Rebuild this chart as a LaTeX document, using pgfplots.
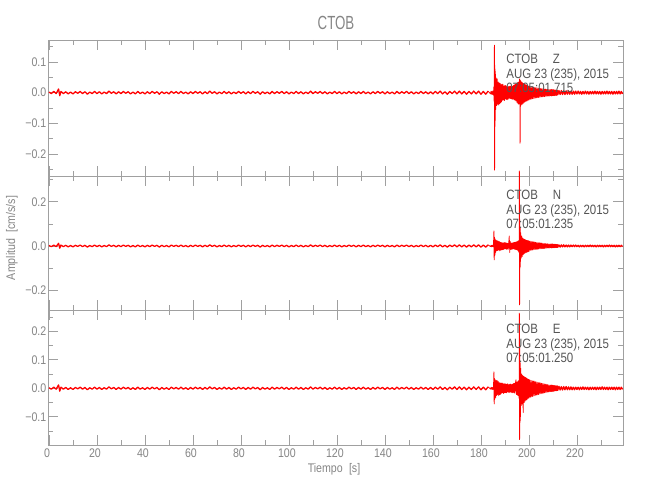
\documentclass[border=0pt]{standalone}
\usepackage{fontspec}
\setmainfont[FakeStretch=0.85]{Liberation Sans}
\newfontfamily\titlefont[FakeStretch=0.7]{Liberation Sans}
\usepackage{pgfplots}
\usepackage{pgfplotstable}
\pgfplotsset{compat=1.18}
\definecolor{axgray}{HTML}{A0A0A0}
\definecolor{txtgray}{HTML}{858585}
\definecolor{anngray}{HTML}{555555}
\definecolor{sigred}{HTML}{FF0000}

\pgfplotstableread[row sep=\\]{
t y\\
0 0.002\\ 1 -0.003\\ 2 0.004\\ 3 -0.003\\ 4 0.012\\ 4.5 -0.010\\ 5 0.004\\ 6 -0.003\\ 7 0.003\\ 8 -0.004\\ 9 0.002\\
10 -0.004\\ 11 0.003\\ 12 -0.002\\ 13 0.004\\ 14 -0.003\\ 15 0.003\\ 16 -0.005\\ 17 0.002\\ 18 -0.003\\ 19 0.004\\
20 -0.003\\ 21 0.003\\ 22 -0.004\\ 23 0.002\\ 24 -0.003\\ 25 0.005\\ 26 -0.002\\ 27 0.003\\ 28 -0.004\\ 29 0.003\\
30 -0.003\\ 31 0.004\\ 32 -0.002\\ 33 0.003\\ 34 -0.004\\ 35 0.002\\ 36 -0.004\\ 37 0.004\\ 38 -0.003\\ 39 0.002\\
40 -0.004\\ 41 0.003\\ 42 -0.003\\ 43 0.004\\ 44 -0.002\\ 45 0.003\\ 46 -0.005\\ 47 0.003\\ 48 -0.003\\ 49 0.002\\
50 -0.004\\ 51 0.004\\ 52 -0.002\\ 53 0.003\\ 54 -0.003\\ 55 0.004\\ 56 -0.003\\ 57 0.002\\ 58 -0.004\\ 59 0.003\\
60 -0.003\\ 61 0.004\\ 62 -0.002\\ 63 0.003\\ 64 -0.004\\ 65 0.003\\ 66 -0.003\\ 67 0.005\\ 68 -0.002\\ 69 0.003\\
70 -0.004\\ 71 0.002\\ 72 -0.003\\ 73 0.004\\ 74 -0.003\\ 75 0.003\\ 76 -0.004\\ 77 0.002\\ 78 -0.003\\ 79 0.004\\
80 -0.002\\ 81 0.003\\ 82 -0.004\\ 83 0.003\\ 84 -0.003\\ 85 0.004\\ 86 -0.002\\ 87 0.003\\ 88 -0.005\\ 89 0.003\\
90 -0.003\\ 91 0.002\\ 92 -0.004\\ 93 0.004\\ 94 -0.003\\ 95 0.003\\ 96 -0.002\\ 97 0.004\\ 98 -0.003\\ 99 0.003\\
100 -0.004\\ 101 0.002\\ 102 -0.003\\ 103 0.004\\ 104 -0.003\\ 105 0.003\\ 106 -0.004\\ 107 0.002\\ 108 -0.003\\ 109 0.005\\
110 -0.003\\ 111 0.003\\ 112 -0.002\\ 113 0.004\\ 114 -0.003\\ 115 0.003\\ 116 -0.004\\ 117 0.002\\ 118 -0.003\\ 119 0.004\\
120 -0.003\\ 121 0.003\\ 122 -0.004\\ 123 0.002\\ 124 -0.003\\ 125 0.004\\ 126 -0.002\\ 127 0.003\\ 128 -0.004\\ 129 0.003\\
130 -0.003\\ 131 0.004\\ 132 -0.003\\ 133 0.002\\ 134 -0.004\\ 135 0.003\\ 136 -0.003\\ 137 0.004\\ 138 -0.002\\ 139 0.003\\
140 -0.004\\ 141 0.003\\ 142 -0.003\\ 143 0.002\\ 144 -0.004\\ 145 0.004\\ 146 -0.003\\ 147 0.003\\ 148 -0.002\\ 149 0.004\\
150 -0.003\\ 151 0.003\\ 152 -0.004\\ 153 0.002\\ 154 -0.003\\ 155 0.004\\ 156 -0.003\\ 157 0.003\\ 158 -0.004\\ 159 0.003\\
160 -0.004\\ 161 0.004\\ 162 -0.003\\ 163 0.005\\ 164 -0.004\\ 165 0.003\\ 166 -0.005\\ 167 0.004\\ 168 -0.003\\ 169 0.005\\
170 -0.004\\ 171 0.005\\ 172 -0.004\\ 173 0.004\\ 174 -0.005\\ 175 0.004\\ 176 -0.004\\ 177 0.005\\ 178 -0.004\\ 179 0.005\\
180 -0.005\\ 181 0.004\\ 182 -0.005\\ 183 0.005\\
}\noise

\pgfplotstableread[row sep=\\]{
t z n e\\
183 0.005 0.005 0.005\\
184.0 -0.004 -0.003 -0.003\\ 184.2 0.005 0.003 0.004\\ 184.4 -0.005 -0.004 -0.003\\ 184.6 0.004 0.003 0.003\\
184.8 -0.006 -0.003 -0.004\\ 185.0 0.006 0.004 0.003\\ 185.2 -0.008 -0.004 -0.004\\
185.4 0.020 0.068 0.058\\ 185.5 -0.030 -0.063 -0.055\\ 185.6 0.155 0.040 0.035\\ 185.7 -0.253 -0.045 -0.040\\
185.8 0.090 0.035 0.030\\ 185.9 -0.110 -0.040 -0.035\\ 186.0 0.070 0.030 0.030\\
186.2 -0.055 -0.028 -0.032\\ 186.4 0.048 0.026 0.028\\ 186.6 -0.042 -0.022 -0.025\\ 186.8 0.045 0.024 0.027\\
187.0 -0.038 -0.020 -0.022\\ 187.2 0.035 0.022 0.024\\ 187.4 -0.040 -0.018 -0.026\\ 187.6 0.032 0.020 0.020\\
187.8 -0.036 -0.022 -0.022\\ 188.0 0.030 0.017 0.019\\ 188.2 -0.033 -0.019 -0.021\\ 188.4 0.026 0.016 0.018\\
188.6 -0.030 -0.018 -0.017\\ 188.8 0.028 0.015 0.019\\ 189.0 -0.025 -0.017 -0.016\\ 189.2 0.027 0.014 0.017\\
189.4 -0.024 -0.016 -0.018\\ 189.6 0.022 0.015 0.015\\ 189.8 -0.026 -0.014 -0.016\\ 190.0 0.024 0.016 0.017\\
190.2 -0.021 -0.013 -0.015\\ 190.4 0.023 0.014 0.014\\ 190.6 -0.022 -0.015 -0.016\\ 190.8 0.020 0.013 0.015\\
191.0 -0.023 -0.014 -0.013\\ 191.2 0.019 0.012 0.016\\ 191.4 -0.021 -0.015 -0.014\\ 191.6 0.020 0.018 0.013\\
191.8 -0.018 0.045 -0.015\\ 192.0 0.021 -0.030 0.014\\ 192.2 -0.019 0.020 -0.013\\ 192.4 0.022 -0.016 0.015\\
192.6 -0.020 0.014 -0.014\\ 192.8 0.018 -0.015 0.013\\ 193.0 -0.022 0.013 -0.016\\ 193.2 0.021 -0.014 0.015\\
193.4 -0.020 0.015 -0.014\\ 193.6 0.024 -0.013 0.017\\ 193.8 -0.023 0.016 -0.016\\ 194.0 0.026 -0.015 0.018\\
194.2 -0.025 0.017 -0.017\\ 194.4 0.028 -0.016 0.020\\ 194.6 -0.027 0.018 0.030\\ 194.8 0.030 -0.017 -0.022\\
195.0 -0.032 0.020 0.022\\ 195.2 0.033 -0.019 -0.024\\ 195.4 -0.036 0.022 0.025\\ 195.6 0.034 -0.024 -0.026\\
195.8 -0.038 0.025 0.028\\
195.9 0.036 -0.030 -0.035\\ 196.0 -0.035 0.340 0.264\\ 196.05 -0.030 0.330 0.255\\ 196.1 0.045 -0.267 -0.180\\
196.15 0.040 -0.255 -0.172\\ 196.2 0.045 0.120 0.150\\
196.3 -0.165 -0.100 -0.120\\ 196.35 -0.158 -0.090 -0.110\\ 196.4 0.040 0.080 0.090\\ 196.5 -0.045 -0.070 -0.100\\ 196.6 0.038 0.060 0.070\\
196.8 -0.040 -0.055 -0.060\\ 197.0 0.035 0.045 0.050\\ 197.2 -0.038 -0.048 -0.055\\ 197.4 0.032 0.036 0.045\\
197.6 -0.035 -0.040 -0.085\\ 197.8 0.030 0.032 0.042\\ 198.0 -0.032 -0.035 -0.050\\ 198.2 0.028 0.030 0.040\\
198.4 -0.030 -0.032 -0.045\\ 198.6 0.026 0.028 0.038\\ 198.8 -0.028 -0.030 -0.042\\ 199.0 0.025 0.026 0.036\\
199.2 -0.027 -0.028 -0.040\\ 199.4 0.023 0.025 0.034\\ 199.6 -0.025 -0.026 -0.036\\ 199.8 0.022 0.024 0.032\\
200.0 -0.024 -0.025 -0.034\\
200.25 0.021 0.022 0.030\\ 200.5 -0.022 -0.020 -0.032\\ 200.75 0.020 0.021 0.028\\ 201.0 -0.021 -0.019 -0.030\\
201.25 0.019 0.020 0.027\\ 201.5 -0.020 -0.018 -0.029\\ 201.75 0.018 0.019 0.026\\ 202.0 -0.019 -0.017 -0.027\\
202.25 0.017 0.018 0.025\\ 202.5 -0.018 -0.016 -0.026\\ 202.75 0.016 0.017 0.023\\ 203.0 -0.017 -0.015 -0.024\\
203.25 0.016 0.016 0.022\\ 203.5 -0.016 -0.015 -0.023\\ 203.75 0.015 0.015 0.021\\ 204.0 -0.016 -0.014 -0.022\\
204.25 0.014 0.015 0.020\\ 204.5 -0.015 -0.013 -0.020\\ 204.75 0.014 0.014 0.019\\ 205.0 -0.014 -0.013 -0.019\\
205.25 0.013 0.013 0.018\\ 205.5 -0.014 -0.012 -0.018\\ 205.75 0.013 0.012 0.017\\ 206.0 -0.013 -0.012 -0.017\\
206.25 0.012 0.011 0.016\\ 206.5 -0.013 -0.011 -0.016\\ 206.75 0.012 0.011 0.015\\ 207.0 -0.012 -0.010 -0.015\\
207.25 0.011 0.010 0.014\\ 207.5 -0.012 -0.010 -0.014\\ 207.75 0.011 0.010 0.013\\ 208.0 -0.011 -0.009 -0.013\\
208.25 0.010 0.009 0.012\\ 208.5 -0.011 -0.009 -0.012\\ 208.75 0.010 0.009 0.011\\ 209.0 -0.010 -0.008 -0.011\\
209.25 0.010 0.008 0.011\\ 209.5 -0.010 -0.008 -0.010\\ 209.75 0.009 0.008 0.010\\ 210.0 -0.009 -0.007 -0.010\\
210.25 0.009 0.007 0.009\\ 210.5 -0.009 -0.007 -0.009\\ 210.75 0.008 0.007 0.009\\ 211.0 -0.008 -0.006 -0.008\\
211.25 0.008 0.006 0.008\\ 211.5 -0.008 -0.006 -0.008\\ 211.75 0.007 0.006 0.008\\ 212.0 -0.007 -0.006 -0.007\\
212.5 0.007 0.005 0.007\\ 213.0 -0.006 -0.005 -0.006\\ 213.5 0.007 0.005 0.006\\ 214.0 -0.006 -0.004 -0.006\\
214.5 0.006 0.005 0.006\\ 215.0 -0.006 -0.004 -0.005\\ 215.5 0.006 0.004 0.006\\ 216.0 -0.005 -0.004 -0.005\\
216.5 0.006 0.004 0.005\\ 217.0 -0.005 -0.004 -0.005\\ 217.5 0.005 0.004 0.005\\ 218.0 -0.005 -0.003 -0.005\\
218.5 0.005 0.004 0.004\\ 219.0 -0.005 -0.003 -0.005\\ 219.5 0.005 0.004 0.004\\ 220.0 -0.004 -0.003 -0.004\\
220.5 0.005 0.003 0.004\\ 221.0 -0.004 -0.004 -0.005\\ 221.5 0.004 0.003 0.004\\ 222.0 -0.005 -0.003 -0.004\\
222.5 0.004 0.003 0.005\\ 223.0 -0.004 -0.004 -0.004\\ 223.5 0.005 0.003 0.004\\ 224.0 -0.004 -0.003 -0.004\\
224.5 0.004 0.003 0.004\\ 225.0 -0.005 -0.003 -0.005\\ 225.5 0.004 0.004 0.004\\ 226.0 -0.004 -0.003 -0.004\\
226.5 0.004 0.003 0.004\\ 227.0 -0.004 -0.003 -0.004\\ 227.5 0.005 0.003 0.004\\ 228.0 -0.004 -0.004 -0.005\\
228.5 0.004 0.003 0.004\\ 229.0 -0.004 -0.003 -0.004\\ 229.5 0.004 0.003 0.004\\ 230.0 -0.005 -0.003 -0.004\\
230.5 0.004 0.003 0.005\\ 231.0 -0.004 -0.004 -0.004\\ 231.5 0.004 0.003 0.004\\ 232.0 -0.004 -0.003 -0.004\\
232.5 0.005 0.003 0.004\\ 233.0 -0.004 -0.003 -0.005\\ 233.5 0.004 0.004 0.004\\ 234.0 -0.004 -0.003 -0.004\\
234.5 0.004 0.003 0.004\\ 235.0 -0.005 -0.003 -0.004\\ 235.5 0.004 0.003 0.004\\ 236.0 -0.004 -0.004 -0.005\\
236.5 0.004 0.003 0.004\\ 237.0 -0.004 -0.003 -0.004\\ 237.5 0.005 0.003 0.004\\ 238.0 -0.004 -0.003 -0.004\\
238.5 0.004 0.003 0.004\\ 239.0 -0.004 -0.003 -0.004\\
}\burst

\pgfplotsset{
  seis/.style={
    scale only axis, width=575bp, xmin=-0.4, xmax=239.2,
    anchor=south west, clip=false,
    axis line style={axgray, line width=0.7pt},
    tick style={axgray, line width=0.7pt},
    major tick length=10bp, minor tick length=5bp,
    xtick={0,20,...,220}, minor xtick={10,30,...,230},
    tick label style={txtgray, font=\fontsize{12.5bp}{14bp}\selectfont},
    yticklabel style={inner sep=1.5bp},
    xticklabel style={xshift=-2bp},
  },
  noisetrace/.style={sigred, line width=1.3pt, no marks, line join=round},
  trace/.style={sigred, line width=0.75pt, no marks, line join=round},
}
\tikzset{
  ann/.style={anngray, anchor=base west, font=\fontsize{13.5bp}{15bp}\selectfont},
}

\begin{document}
\begin{tikzpicture}[x=1bp,y=1bp]
\useasboundingbox (0,0) rectangle (650,500);

% Z
\begin{axis}[seis, at={(48bp,324bp)}, height=136bp,
  ymin=-0.272, ymax=0.172,
  ytick={-0.2,-0.1,0,0.1}, yticklabels={−0.2,−0.1,0.0,0.1},
  minor ytick={-0.25,-0.15,-0.05,0.05,0.15},
  xticklabels={}]
\addplot[noisetrace] table[x=t,y=y]{\noise};
\addplot[noisetrace, restrict x to domain=209:240] table[x=t,y=z]{\burst};
\addplot[trace, restrict x to domain=182:212] table[x=t,y=z]{\burst};
\node[ann, yshift=-24bp] at (rel axis cs:0.791,1) {CTOB\hspace{1.1em}Z};
\node[ann, yshift=-38.5bp] at (rel axis cs:0.791,1) {AUG 23 (235), 2015};
\node[ann, yshift=-53bp] at (rel axis cs:0.791,1) {07:05:01.715};
\end{axis}

% N
\begin{axis}[seis, at={(48bp,190bp)}, height=134bp,
  ymin=-0.29, ymax=0.317,
  ytick={-0.2,0,0.2}, yticklabels={−0.2,0.0,0.2},
  minor ytick={-0.1,0.1,0.3},
  xticklabels={}]
\addplot[noisetrace] table[x=t,y=y]{\noise};
\addplot[noisetrace, restrict x to domain=209:240] table[x=t,y=n]{\burst};
\addplot[trace, restrict x to domain=182:212] table[x=t,y=n]{\burst};
\node[ann, yshift=-24bp] at (rel axis cs:0.791,1) {CTOB\hspace{1.1em}N};
\node[ann, yshift=-38.5bp] at (rel axis cs:0.791,1) {AUG 23 (235), 2015};
\node[ann, yshift=-53bp] at (rel axis cs:0.791,1) {07:05:01.235};
\end{axis}

% E
\begin{axis}[seis, at={(48bp,55bp)}, height=135bp,
  ymin=-0.199, ymax=0.275,
  ytick={-0.1,0,0.1,0.2}, yticklabels={−0.1,0.0,0.1,0.2},
  minor ytick={-0.15,-0.05,0.05,0.15,0.25},
  xticklabels={0,20,40,60,80,100,120,140,160,180,200,220}]
\addplot[noisetrace] table[x=t,y=y]{\noise};
\addplot[noisetrace, restrict x to domain=209:240] table[x=t,y=e]{\burst};
\addplot[trace, restrict x to domain=182:212] table[x=t,y=e]{\burst};
\node[ann, yshift=-24bp] at (rel axis cs:0.791,1) {CTOB\hspace{1.1em}E};
\node[ann, yshift=-38.5bp] at (rel axis cs:0.791,1) {AUG 23 (235), 2015};
\node[ann, yshift=-53bp] at (rel axis cs:0.791,1) {07:05:01.250};
\end{axis}

\node[txtgray, font=\titlefont\fontsize{19bp}{22bp}\selectfont] at (336,477.5) {CTOB};
\node[txtgray, rotate=90, font=\fontsize{12.5bp}{14bp}\selectfont] at (12,262) {Amplitud\hspace{0.5em}[cm/s/s]};
\node[txtgray, font=\fontsize{12.5bp}{14bp}\selectfont] at (334,31) {Tiempo\hspace{0.5em}[s]};
\end{tikzpicture}
\end{document}
